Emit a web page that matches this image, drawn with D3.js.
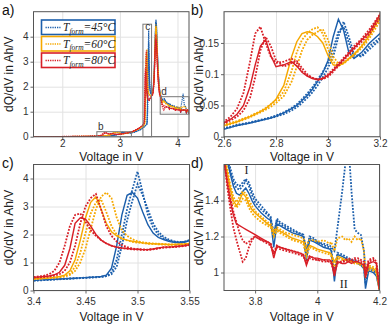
<!DOCTYPE html>
<html>
<head>
<meta charset="utf-8">
<script src="https://cdn.jsdelivr.net/npm/d3@7"></script>
<style>
  body { margin: 0; background: #fff; }
  svg { display: block; font-family: "Liberation Sans", Arial, sans-serif; }
  .tick text { fill: #333; font-size: 10px; }
  .tick line { stroke: #666; }
  .grid .tick line { stroke: #e2e2e2; }
  .grid .domain { display: none; }
  .axis .domain { display: none; }
</style>
</head>
<body>
<div id="chart"></div>
<script>
//========= Data =========//
// formation temperatures (legend)
var temps = ["45", "60", "80"];

// low-voltage tail (overview only)
var vLow = [1.5, 1.8, 2.1, 2.3, 2.45, 2.55];
var low45 = [[0.002,0.003,0.004,0.006,0.008,0.010],[0.003,0.004,0.005,0.007,0.009,0.012],[0.002,0.003,0.004,0.006,0.008,0.011]];
var low60 = [[0.003,0.005,0.007,0.010,0.013,0.016],[0.004,0.005,0.008,0.011,0.014,0.017],[0.003,0.004,0.007,0.009,0.012,0.015]];
var low80 = [[0.004,0.006,0.009,0.012,0.016,0.019],[0.004,0.007,0.010,0.014,0.018,0.021],[0.003,0.006,0.008,0.011,0.015,0.018]];

// region b) 2.6 - 3.2 V
var vB = [2.6,2.625,2.65,2.675,2.7,2.72,2.74,2.76,2.78,2.8,2.83,2.86,2.88,2.9,2.92,2.94,2.96,2.98,3.0,3.02,3.04,3.06,3.08,3.1,3.13,3.16,3.2];
var b45 = [
  [0.012,0.015,0.018,0.020,0.022,0.024,0.026,0.028,0.030,0.033,0.038,0.045,0.050,0.058,0.066,0.076,0.088,0.102,0.122,0.160,0.188,0.170,0.135,0.125,0.135,0.150,0.165],
  [0.014,0.016,0.019,0.021,0.023,0.025,0.027,0.029,0.031,0.034,0.039,0.046,0.052,0.060,0.069,0.079,0.091,0.104,0.118,0.140,0.168,0.176,0.150,0.128,0.130,0.145,0.158],
  [0.013,0.015,0.018,0.020,0.022,0.024,0.026,0.028,0.030,0.032,0.036,0.042,0.047,0.054,0.062,0.071,0.082,0.095,0.110,0.128,0.160,0.184,0.160,0.132,0.128,0.140,0.155]
];
var b60 = [
  [0.018,0.021,0.024,0.028,0.032,0.036,0.040,0.045,0.052,0.060,0.082,0.128,0.152,0.165,0.168,0.166,0.160,0.150,0.130,0.115,0.113,0.118,0.125,0.132,0.145,0.162,0.190],
  [0.019,0.022,0.025,0.029,0.033,0.037,0.041,0.046,0.052,0.058,0.072,0.105,0.135,0.155,0.165,0.172,0.175,0.165,0.140,0.120,0.114,0.117,0.124,0.130,0.142,0.158,0.185],
  [0.017,0.020,0.023,0.027,0.031,0.035,0.039,0.043,0.048,0.054,0.065,0.088,0.112,0.138,0.155,0.163,0.168,0.172,0.155,0.128,0.117,0.118,0.125,0.132,0.146,0.165,0.195]
];
var b80 = [
  [0.022,0.028,0.036,0.050,0.080,0.115,0.145,0.155,0.130,0.112,0.115,0.120,0.113,0.103,0.097,0.093,0.091,0.093,0.098,0.106,0.115,0.124,0.133,0.142,0.155,0.168,0.195],
  [0.024,0.032,0.045,0.070,0.120,0.165,0.176,0.150,0.128,0.118,0.120,0.125,0.118,0.105,0.098,0.094,0.092,0.094,0.100,0.108,0.117,0.126,0.135,0.145,0.157,0.172,0.196],
  [0.021,0.026,0.032,0.042,0.062,0.095,0.138,0.160,0.145,0.122,0.112,0.118,0.121,0.110,0.100,0.094,0.091,0.092,0.096,0.104,0.113,0.122,0.131,0.140,0.152,0.165,0.190]
];

// gap 3.2 - 3.4 V (overview only)
var vMid1 = [3.25, 3.3, 3.35, 3.38];
var mid1_45 = [[0.19,0.23,0.28,0.32],[0.18,0.22,0.27,0.31],[0.185,0.225,0.275,0.315]];
var mid1_60 = [[0.23,0.28,0.34,0.39],[0.22,0.27,0.33,0.38],[0.235,0.285,0.345,0.395]];
var mid1_80 = [[0.24,0.30,0.37,0.43],[0.245,0.305,0.375,0.435],[0.235,0.295,0.365,0.44]];

// region c) 3.4 - 3.55 V
var vC = [3.400,3.405,3.410,3.415,3.420,3.425,3.430,3.435,3.440,3.445,3.450,3.455,3.460,3.465,3.470,3.475,3.480,3.485,3.490,3.495,3.500,3.505,3.510,3.515,3.520,3.525,3.530,3.535,3.540,3.545,3.550];
var c45 = [
  [0.36,0.37,0.38,0.39,0.40,0.41,0.42,0.43,0.44,0.45,0.46,0.47,0.48,0.50,0.55,0.80,1.60,2.70,3.40,3.50,3.30,2.80,2.35,2.05,1.90,1.82,1.76,1.72,1.70,1.72,1.78],
  [0.35,0.36,0.37,0.38,0.39,0.40,0.41,0.42,0.43,0.44,0.45,0.46,0.47,0.48,0.52,0.65,1.10,2.00,2.90,3.60,4.25,3.50,2.70,2.25,2.00,1.86,1.78,1.74,1.72,1.74,1.80],
  [0.36,0.37,0.38,0.39,0.40,0.41,0.42,0.43,0.44,0.45,0.46,0.47,0.48,0.49,0.51,0.58,0.85,1.60,2.50,3.20,3.80,3.40,2.90,2.40,2.10,1.92,1.82,1.76,1.73,1.74,1.78]
];
var c60 = [
  [0.42,0.43,0.44,0.45,0.47,0.50,0.55,0.70,1.10,1.80,2.60,3.15,3.35,2.90,2.40,2.10,1.95,1.85,1.80,1.76,1.73,1.70,1.68,1.67,1.66,1.65,1.64,1.64,1.65,1.66,1.68],
  [0.41,0.42,0.43,0.44,0.45,0.47,0.50,0.56,0.70,1.00,1.50,2.20,2.90,3.35,3.50,3.30,2.60,2.15,1.95,1.83,1.76,1.72,1.70,1.68,1.67,1.66,1.65,1.65,1.65,1.66,1.67],
  [0.42,0.43,0.44,0.45,0.46,0.48,0.52,0.60,0.85,1.35,2.05,2.75,3.15,3.25,2.80,2.30,2.00,1.86,1.79,1.74,1.71,1.69,1.67,1.66,1.65,1.64,1.63,1.63,1.64,1.65,1.67]
];
var c80 = [
  [0.47,0.48,0.50,0.52,0.56,0.65,0.90,1.50,2.40,2.60,2.55,2.30,2.00,1.80,1.68,1.60,1.55,1.52,1.50,1.48,1.47,1.46,1.46,1.48,1.52,1.55,1.55,1.56,1.58,1.60,1.63],
  [0.46,0.47,0.48,0.50,0.53,0.58,0.70,1.00,1.60,2.40,3.00,3.30,3.45,2.90,2.30,1.95,1.75,1.62,1.55,1.50,1.48,1.47,1.46,1.48,1.51,1.54,1.55,1.56,1.58,1.61,1.65],
  [0.48,0.50,0.53,0.58,0.70,1.00,1.60,2.30,2.70,2.75,2.45,2.15,1.95,1.80,1.68,1.60,1.55,1.51,1.49,1.47,1.46,1.45,1.45,1.47,1.50,1.53,1.54,1.55,1.57,1.59,1.62]
];

// main peak 3.55 - 3.7 V (overview only)
var vMid2 = [3.565,3.58,3.595,3.605,3.615,3.625,3.635,3.65,3.665,3.68,3.69];
var mid2_45 = [
  [1.80,1.95,2.50,3.20,4.00,4.55,4.40,3.40,2.60,2.10,1.85],
  [1.82,1.98,2.60,3.40,4.20,4.68,4.50,3.50,2.65,2.15,1.88],
  [1.80,1.96,2.55,3.30,4.10,4.60,4.45,3.45,2.62,2.12,1.86]
];
var mid2_60 = [
  [1.70,1.85,2.40,3.10,3.90,4.40,4.20,3.20,2.45,2.00,1.78],
  [1.70,1.86,2.45,3.20,4.00,4.50,4.30,3.30,2.50,2.02,1.80],
  [1.68,1.84,2.35,3.00,3.80,4.35,4.15,3.15,2.40,1.96,1.75]
];
var mid2_80 = [
  [1.66,1.80,2.30,2.90,3.60,3.90,3.70,2.90,2.25,1.85,1.68],
  [1.68,1.84,2.40,3.10,3.80,4.10,3.85,3.00,2.30,1.90,1.70],
  [1.65,1.78,2.25,2.85,3.50,3.80,3.60,2.80,2.20,1.82,1.66]
];

// region d) 3.7 - 4.2 V
var vD = [3.70,3.71,3.72,3.73,3.74,3.75,3.76,3.77,3.78,3.79,3.80,3.82,3.84,3.85,3.86,3.87,3.88,3.90,3.92,3.94,3.955,3.965,3.975,3.99,4.00,4.02,4.04,4.045,4.055,4.065,4.08,4.09,4.10,4.11,4.12,4.13,4.14,4.15,4.155,4.165,4.18,4.19,4.20];
var d45 = [
  [1.70,1.62,1.55,1.48,1.44,1.43,1.45,1.47,1.44,1.40,1.37,1.33,1.30,1.29,1.14,1.27,1.26,1.24,1.22,1.21,1.20,1.07,1.18,1.17,1.16,1.14,1.13,1.12,0.95,1.10,1.09,1.08,1.07,1.07,1.06,1.05,1.04,1.02,0.91,1.01,1.00,0.98,0.90],
  [1.72,1.65,1.56,1.50,1.47,1.46,1.48,1.51,1.48,1.43,1.39,1.35,1.32,1.30,1.22,1.29,1.27,1.25,1.23,1.22,1.21,1.12,1.20,1.19,1.17,1.16,1.15,1.14,1.12,1.25,1.45,1.60,1.72,1.45,1.24,1.22,1.21,1.12,1.00,1.03,1.02,1.00,0.92],
  [1.75,1.66,1.58,1.52,1.49,1.48,1.50,1.52,1.50,1.45,1.41,1.37,1.33,1.31,1.20,1.30,1.28,1.26,1.24,1.22,1.21,1.10,1.19,1.18,1.17,1.15,1.14,1.13,0.99,1.11,1.10,1.09,1.08,1.07,1.07,1.06,1.05,1.03,0.94,1.02,1.01,0.99,0.91]
];
var d60 = [
  [1.66,1.56,1.47,1.40,1.37,1.40,1.44,1.42,1.38,1.35,1.33,1.30,1.27,1.26,1.22,1.24,1.23,1.21,1.19,1.18,1.17,1.12,1.15,1.14,1.13,1.12,1.11,1.10,1.06,1.09,1.08,1.07,1.07,1.06,1.06,1.05,1.05,1.04,1.00,1.03,1.02,1.01,0.90],
  [1.68,1.58,1.49,1.42,1.39,1.42,1.45,1.44,1.40,1.37,1.34,1.31,1.28,1.27,1.23,1.25,1.24,1.22,1.21,1.20,1.19,1.15,1.18,1.18,1.17,1.18,1.16,1.17,1.12,1.19,1.20,1.18,1.19,1.17,1.20,1.18,1.19,1.12,1.02,1.04,1.03,1.02,0.92],
  [1.64,1.54,1.45,1.38,1.36,1.38,1.41,1.40,1.36,1.33,1.31,1.28,1.26,1.25,1.20,1.23,1.22,1.20,1.18,1.17,1.16,1.09,1.14,1.13,1.12,1.11,1.10,1.09,1.03,1.08,1.07,1.07,1.06,1.06,1.05,1.05,1.04,1.03,0.98,1.02,1.01,1.00,0.90]
];
var d80 = [
  [1.62,1.50,1.40,1.32,1.27,1.26,1.25,1.24,1.23,1.22,1.21,1.19,1.17,1.16,1.08,1.15,1.14,1.13,1.12,1.11,1.10,1.04,1.09,1.08,1.08,1.07,1.07,1.06,0.98,1.06,1.05,1.05,1.06,1.05,1.06,1.06,1.05,1.04,0.97,1.05,1.06,1.05,0.90],
  [1.64,1.48,1.36,1.25,1.18,1.12,1.06,1.08,1.14,1.18,1.20,1.18,1.16,1.15,1.10,1.14,1.13,1.12,1.11,1.10,1.09,1.06,1.08,1.07,1.07,1.06,1.06,1.05,1.00,1.05,1.06,1.07,1.08,1.07,1.08,1.08,1.07,1.06,1.00,1.07,1.08,1.06,0.92],
  [1.63,1.52,1.42,1.34,1.28,1.22,1.18,1.16,1.17,1.19,1.20,1.18,1.17,1.16,1.11,1.15,1.14,1.13,1.12,1.11,1.10,1.05,1.09,1.08,1.07,1.07,1.06,1.06,1.01,1.06,1.06,1.06,1.07,1.06,1.07,1.07,1.06,1.05,0.99,1.06,1.07,1.05,0.91]
];

//========= Styles =========//
var colors = { "45": "#1c5fac", "60": "#f6a800", "80": "#d81f27" };

var parts = {
  "45": [[vLow, low45], [vB, b45], [vMid1, mid1_45], [vC, c45], [vMid2, mid2_45], [vD, d45]],
  "60": [[vLow, low60], [vB, b60], [vMid1, mid1_60], [vC, c60], [vMid2, mid2_60], [vD, d60]],
  "80": [[vLow, low80], [vB, b80], [vMid1, mid1_80], [vC, c80], [vMid2, mid2_80], [vD, d80]]
};

// stitch every cycle into one curve
function buildCurves(t) {
  var curves = [];
  for (var i = 0; i < 3; i++) {
    var pts = [];
    parts[t].forEach(function (p) {
      p[0].forEach(function (v, j) { pts.push([v, p[1][i][j]]); });
    });
    curves.push(pts);
  }
  return curves;
}

var svg = d3.select("#chart").append("svg")
  .attr("width", 389).attr("height", 327);

var panels = [
  { id: "a", x: [1.5, 4.2], y: [0, 5], left: 33.5, right: 189, top: 11.7, bottom: 136.7,
    xt: [2, 3, 4], yt: [0, 1, 2, 3, 4], lw: 1.2, tickY: 147.5, titleY: 161 },
  { id: "b", x: [2.6, 3.2], y: [0, 0.2], left: 224, right: 380, top: 11.7, bottom: 136.7,
    xt: [2.6, 2.8, 3, 3.2], yt: [0, 0.05, 0.1, 0.15], lw: 1.8, tickY: 147.5, titleY: 161 },
  { id: "c", x: [3.4, 3.55], y: [0, 4.5], left: 33.5, right: 189.5, top: 164.5, bottom: 290.5,
    xt: [3.4, 3.45, 3.5, 3.55], yt: [0, 1, 2, 3, 4], lw: 1.8, tickY: 305, titleY: 321 },
  { id: "d", x: [3.7, 4.2], y: [0.9, 1.6], left: 224, right: 379.5, top: 164.5, bottom: 290.5,
    xt: [3.8, 4, 4.2], yt: [1, 1.2, 1.4], lw: 1.8, tickY: 305, titleY: 321 }
];

panels.forEach(function (p) {
  var x = d3.scaleLinear().domain(p.x).range([p.left, p.right]);
  var y = d3.scaleLinear().domain(p.y).range([p.bottom, p.top]);
  p.xs = x; p.ys = y;
  var g = svg.append("g");
  var h = p.bottom - p.top, w = p.right - p.left;

  // gridlines
  g.append("g").attr("class", "grid")
    .attr("transform", `translate(0, ${p.bottom})`)
    .call(d3.axisBottom(x).tickValues(p.xt).tickSize(-h).tickFormat(""));
  g.append("g").attr("class", "grid")
    .attr("transform", `translate(${p.left}, 0)`)
    .call(d3.axisLeft(y).tickValues(p.yt).tickSize(-w).tickFormat(""));

  // clip
  svg.append("clipPath").attr("id", "clip-" + p.id)
    .append("rect").attr("x", p.left).attr("y", p.top).attr("width", w).attr("height", h);

  var line = d3.line().x((d) => x(d[0])).y((d) => y(d[1]));
  var curvesG = g.append("g").attr("clip-path", `url(#clip-${p.id})`);
  temps.forEach(function (t) {
    buildCurves(t).forEach(function (c, i) {
      curvesG.append("path")
        .attr("d", line(c))
        .attr("fill", "none")
        .attr("stroke", colors[t])
        .attr("stroke-width", i === 0 ? p.lw * 0.8 : p.lw)
        .attr("stroke-dasharray", i === 0 ? null : `${p.lw},${p.lw * 0.8}`);
    });
  });

  // axes
  var fmt = (d) => String(d);
  var xa = g.append("g").attr("class", "axis")
    .attr("transform", `translate(0, ${p.bottom})`)
    .call(d3.axisBottom(x).tickValues(p.xt).tickSize(3).tickPadding(2).tickFormat(fmt));
  xa.selectAll("text").attr("dy", null).attr("y", p.tickY - p.bottom);
  g.append("g").attr("class", "axis")
    .attr("transform", `translate(${p.left}, 0)`)
    .call(d3.axisLeft(y).tickValues(p.yt).tickSize(3).tickPadding(2).tickFormat(fmt));

  // frame
  g.append("rect")
    .attr("x", p.left).attr("y", p.top).attr("width", w).attr("height", h)
    .attr("fill", "none").attr("stroke", "#555").attr("stroke-width", 1);

  // titles
  g.append("text")
    .attr("x", (p.left + p.right) / 2).attr("y", p.titleY)
    .attr("text-anchor", "middle").attr("font-size", 12).attr("fill", "#222")
    .text("Voltage in V");
  g.append("text")
    .attr("transform", `translate(${p.left - 21}, ${(p.top + p.bottom) / 2}) rotate(-90)`)
    .attr("text-anchor", "middle").attr("font-size", 12).attr("fill", "#222")
    .text("dQ/dV in Ah/V");

  // panel letter
  g.append("text")
    .attr("x", p.left < 100 ? 2 : 191).attr("y", p.top + 3)
    .attr("font-size", 14).attr("fill", "#111")
    .text(p.id + ")");
});

//========= Zoom boxes in a) =========//
var pa = panels[0];
var boxes = [
  { id: "b", x: [2.6, 3.2], y: [0, 0.2], lx: 2.62, ly: 0.25 },
  { id: "c", x: [3.4, 3.55], y: [0, 4.5], lx: 3.44, ly: 4.25 },
  { id: "d", x: [3.7, 4.2], y: [0.9, 1.6], lx: 3.72, ly: 1.66 }
];
boxes.forEach(function (b) {
  svg.append("rect")
    .attr("x", pa.xs(b.x[0])).attr("y", pa.ys(b.y[1]))
    .attr("width", pa.xs(b.x[1]) - pa.xs(b.x[0]))
    .attr("height", pa.ys(b.y[0]) - pa.ys(b.y[1]))
    .attr("fill", "none").attr("stroke", "#777").attr("stroke-width", 1);
  svg.append("text")
    .attr("x", pa.xs(b.lx)).attr("y", pa.ys(b.ly))
    .attr("font-size", 10).attr("fill", "#333").text(b.id);
});

//========= Legend =========//
temps.forEach(function (t, i) {
  var lg = svg.append("g").attr("transform", `translate(41.5, ${20 + i * 16.5})`);
  lg.append("rect").attr("width", 73.5).attr("height", 14.5)
    .attr("fill", "#fff").attr("stroke", colors[t]).attr("stroke-width", 1.6);
  lg.append("line").attr("x1", 4).attr("x2", 19).attr("y1", 7.5).attr("y2", 7.5)
    .attr("stroke", colors[t]).attr("stroke-width", 1.3).attr("stroke-dasharray", "1.3,1");
  var txt = lg.append("text").attr("x", 21.5).attr("y", 11)
    .attr("font-family", "'Liberation Serif', 'Times New Roman', serif")
    .attr("font-style", "italic").attr("font-size", 11.5).attr("fill", "#222");
  txt.append("tspan").text("T");
  txt.append("tspan").attr("font-size", 7.5).attr("dy", 2.5).text("form");
  txt.append("tspan").attr("dy", -2.5).text("=" + t + "°C");
});

//========= Markers in d) =========//
var pd = panels[3];
[["I", 3.772, 1.545], ["II", 4.085, 0.915]].forEach(function (m) {
  svg.append("text")
    .attr("x", pd.xs(m[1])).attr("y", pd.ys(m[2]))
    .attr("text-anchor", "middle")
    .attr("font-family", "'Liberation Serif', 'Times New Roman', serif")
    .attr("font-size", 12).attr("fill", "#222").text(m[0]);
});
</script>
</body>
</html>
